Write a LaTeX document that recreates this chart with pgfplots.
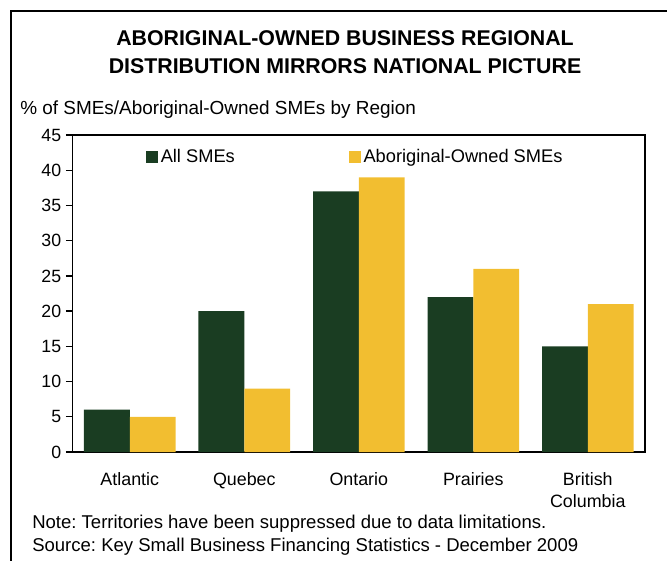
\documentclass[border=0pt]{standalone}
\usepackage{pgfplots}
\pgfplotsset{compat=1.18}
\usepackage{fontspec}
\setmainfont{Liberation Sans}
\frenchspacing
\definecolor{dgreen}{HTML}{1A3D22}
\definecolor{gold}{HTML}{F2BE30}
\begin{document}
\begin{tikzpicture}
\path[use as bounding box] (0pt,0pt) rectangle (500.25pt,-420pt);
\begin{scope}
\clip (0pt,0pt) rectangle (500.25pt,-420pt);
\draw[line width=1.6pt] (8pt,-520pt) -- (8pt,-8pt) -- (520pt,-8pt);
\end{scope}
\node[align=center,font=\fontsize{16pt}{20.5pt}\selectfont\bfseries] at (258.75pt,-39pt) {ABORIGINAL-OWNED BUSINESS REGIONAL\\DISTRIBUTION MIRRORS NATIONAL PICTURE};
\node[anchor=west,inner sep=0pt,font=\fontsize{14.2pt}{16pt}\selectfont] at (15pt,-82.5pt) {\% of SMEs/Aboriginal-Owned SMEs by Region};
\node[anchor=west,inner sep=0pt,font=\fontsize{13.9pt}{16pt}\selectfont] at (24pt,-392.6pt) {Note: Territories have been suppressed due to data limitations.};
\node[anchor=west,inner sep=0pt,font=\fontsize{13.9pt}{16pt}\selectfont] at (24pt,-409.8pt) {Source: Key Small Business Financing Statistics - December 2009};
\begin{axis}[
  at={(54.4pt,-339pt)}, anchor=south west,
  scale only axis, width=429.4pt, height=237.75pt,
  xmin=-0.5, xmax=4.5, ymin=0, ymax=45,
  ytick={0,5,...,45},
  xtick={0,1,2,3,4},
  xticklabels={Atlantic,Quebec,Ontario,Prairies,British\\Columbia},
  xticklabel style={align=center,yshift=-7pt,font=\fontsize{13.4pt}{16.5pt}\selectfont},
  yticklabel style={font=\fontsize{13.3pt}{16pt}\selectfont},
  x tick style={draw=none},
  major tick length=5pt,
  tick align=outside,
  ytick pos=left,
  axis line style={line width=1.3pt},
  y tick style={line width=1pt,black},
  /pgf/number format/assume math mode=true,
  legend columns=2,
  legend style={at={(0.128,0.964)},anchor=north west,draw=none,fill=none,inner sep=0pt,
    font=\fontsize{13.7pt}{15pt}\selectfont,
    /tikz/every even column/.append style={column sep=83.5pt}},
  legend cell align=left,
  legend image code/.code={\path[#1,draw=none] (0pt,-4.5pt) rectangle (9pt,4.5pt);},
]
\addplot[ybar, bar width=0.4, bar shift=-0.2, fill=dgreen, draw=none] coordinates {(0,6) (1,20) (2,37) (3,22) (4,15)};
\addplot[ybar, bar width=0.4, bar shift=0.2, fill=gold, draw=none] coordinates {(0,5) (1,9) (2,39) (3,26) (4,21)};
\legend{All SMEs,Aboriginal-Owned SMEs}
\end{axis}
\end{tikzpicture}
\end{document}
